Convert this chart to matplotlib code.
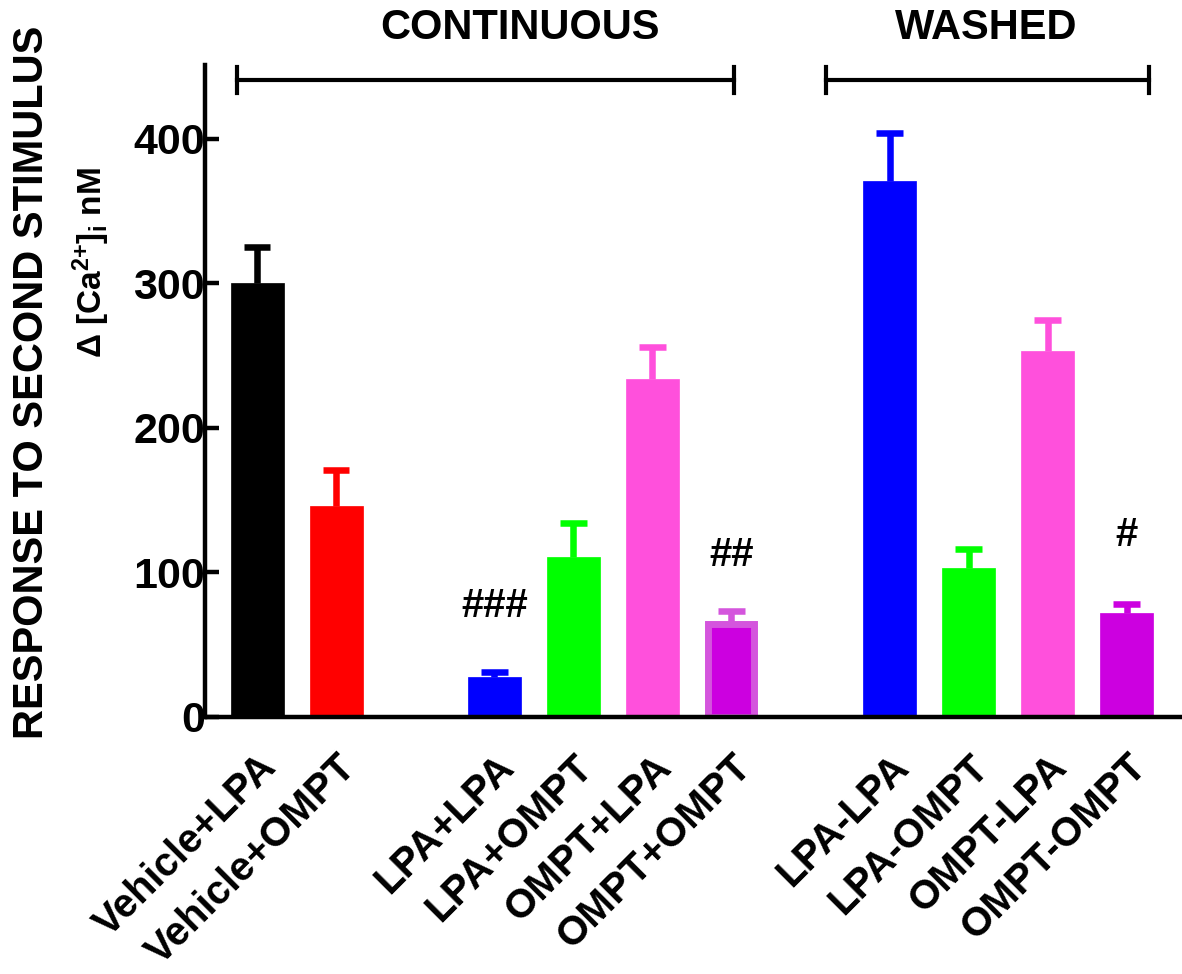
import numpy as np
import matplotlib.pyplot as plt
from matplotlib import font_manager

# bar data
labels = ["Vehicle+LPA", "Vehicle+OMPT", "LPA+LPA", "LPA+OMPT", "OMPT+LPA",
          "OMPT+OMPT", "LPA-LPA", "LPA-OMPT", "OMPT-LPA", "OMPT-OMPT"]
positions = [0, 1, 3, 4, 5, 6, 8, 9, 10, 11]
means = [300, 146, 28, 111, 234, 64, 371, 103, 253, 72]
errors = [25, 25, 3, 23, 22, 9, 33, 13, 22, 6]
colors = ["#000000", "#FF0000", "#0000FF", "#00FF00", "#FF50DC",
          "#CC00E0", "#0000FF", "#00FF00", "#FF50DC", "#CC00E0"]
err_colors = ["#000000", "#FF0000", "#0000FF", "#00FF00", "#FF50DC",
              "#D455DD", "#0000FF", "#00FF00", "#FF50DC", "#CC00E0"]

marks = ["###", "##", "#"]
mark_pos = [3, 6, 11]
mark_y = [77, 112, 126]

groups = ["CONTINUOUS", "WASHED"]
group_span = [(-0.25, 6.03), (7.2, 11.28)]
group_center = [3.33, 9.22]

available = set(f.name for f in font_manager.fontManager.ttflist)
main_font = "Liberation Sans" if "Liberation Sans" in available else "DejaVu Sans"
plt.rcParams["font.family"] = [main_font, "DejaVu Sans"]
plt.rcParams["mathtext.fontset"] = "custom"
plt.rcParams["mathtext.rm"] = main_font + ":bold"
plt.rcParams["mathtext.it"] = main_font + ":bold"
plt.rcParams["mathtext.bf"] = main_font + ":bold"

fig = plt.figure(figsize=(11.82, 9.74), dpi=100)
ax = fig.add_axes([0.1734, 0.2639, 0.8266, 0.6691])

width = 0.67
for i, (x, m, e) in enumerate(zip(positions, means, errors)):
    if labels[i] == "OMPT+OMPT":
        ax.bar(x, m, width=width - 0.09, color=colors[i], edgecolor="#D455DD",
               linewidth=5, zorder=2)
    else:
        ax.bar(x, m, width=width, color=colors[i], edgecolor=colors[i],
               linewidth=0.5, zorder=2)
    # upper error bar only
    ax.vlines(x, m, m + e, color=err_colors[i], lw=4.7, zorder=1)
    ax.hlines(m + e, x - width / 4, x + width / 4, color=err_colors[i],
              lw=4.7, zorder=1)

for t, x, y in zip(marks, mark_pos, mark_y):
    ax.text(x, y, t, ha="center", va="center", fontsize=29, fontweight="bold")

ax.set_xlim(-0.66, 11.7)
ax.set_ylim(0, 451)
ax.set_yticks([0, 100, 200, 300, 400])
ax.set_xticks(positions)
ax.set_xticklabels(labels, rotation=45, ha="right", rotation_mode="anchor",
                   fontsize=29, fontweight="bold")
ax.tick_params(axis="x", length=0, pad=22)
ax.tick_params(axis="y", direction="in", length=10, width=3.2,
               labelsize=31, pad=0)
for lab in ax.get_yticklabels():
    lab.set_fontweight("bold")

for s in ["top", "right"]:
    ax.spines[s].set_visible(False)
for s in ["left", "bottom"]:
    ax.spines[s].set_linewidth(3.2)

# group brackets
for name, (x0, x1), xc in zip(groups, group_span, group_center):
    ax.plot([x0, x1], [441, 441], color="black", lw=3, clip_on=False)
    for xx in (x0, x1):
        ax.plot([xx, xx], [432, 450], color="black", lw=3, clip_on=False)
    ax.text(xc, 477, name, ha="center", va="center", fontsize=30,
            fontweight="bold")

fig.text(0.027, 0.607, "RESPONSE TO SECOND STIMULUS", rotation=90,
         ha="center", va="center", fontsize=30, fontweight="bold")
fig.text(0.077, 0.731, r"Δ [Ca$^{2{+}}$]$_\mathrm{i}$ nM", rotation=90,
         ha="center", va="center", fontsize=24, fontweight="bold")

fig.savefig("out.png", dpi=100)
